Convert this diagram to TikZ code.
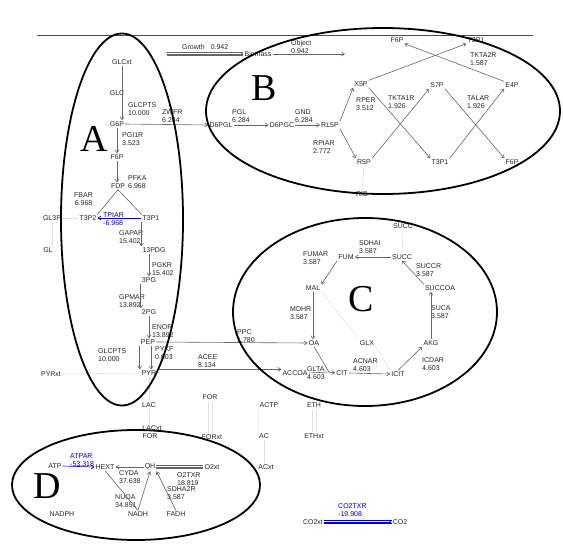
\documentclass[tikz,border=0pt]{standalone}
\usepackage{fontspec}
\setmainfont{Liberation Sans}
\newfontfamily\bigserif{Liberation Serif}
\usetikzlibrary{arrows.meta,calc}
\begin{document}
\begin{tikzpicture}[x=1pt,y=-1pt,
  met/.style={inner sep=1pt, font=\fontsize{7}{8}\selectfont, text=black!85},
  lab/.style={inner sep=0pt, anchor=north west, align=left, font=\fontsize{7}{8}\selectfont, text=black!85},
  bluelab/.style={lab, text=blue!75!black},
  flux/.style={draw=black!60, line width=0.6pt},
  arr/.style={flux, -{Straight Barb[length=3pt,width=4pt]}},
  bluearr/.style={draw=blue!75!black, line width=0.6pt, -{Straight Barb[length=3pt,width=4pt]}},
  faint/.style={draw=black!12, line width=0.6pt},
  region/.style={draw=black, line width=1.8pt},
  big/.style={font=\bigserif\fontsize{38}{38}\selectfont, inner sep=0pt, text height=25pt, text depth=0pt},
  dbl/.style={draw=black!60, line width=0.5pt, double distance=2.2pt},
  bluedbl/.style={draw=blue!75!black, line width=0.6pt, double distance=2.2pt}
]
\useasboundingbox (0,0) rectangle (563,544);

% top line
\coordinate (tl) at (37,35);
\coordinate (tr) at (533,35);
\draw[black!70, line width=0.6pt] (tl) -- (tr);

% ---------- metabolites ----------
\node[met] (GLCxt) at (122,62) {GLCxt};
\node[met] (GLC) at (117,93) {GLC};
\node[met] (G6P) at (117,124) {G6P};
\node[met] (F6P) at (117,157) {F6P};
\node[met] (FDP) at (118,186) {FDP};
\node[met] (T3P2) at (88,218) {T3P2};
\node[met] (T3P1) at (151,218) {T3P1};
\node[met] (GL3P) at (52,218) {GL3P};
\node[met] (GL) at (48,250) {GL};
\node[met] (PDG) at (154,250) {13PDG};
\node[met] (PG3) at (149,280) {3PG};
\node[met] (PG2) at (149,312) {2PG};
\node[met] (PEP) at (148,342) {PEP};
\node[met] (PYR) at (149,373) {PYR};
\node[met] (PYRxt) at (51,374) {PYRxt};
\node[met] (LAC) at (149,405) {LAC};
\node[met] (LACxt) at (152,428) {LACxt};
\node[met] (FOR) at (150,436) {FOR};
\node[met] (D6PGL) at (221,125) {D6PGL};
\node[met] (D6PGC) at (282,125) {D6PGC};
\node[met] (RL5P) at (330,125) {RL5P};
\node[met] (X5P) at (361,84) {X5P};
\node[met] (R5P) at (364,162) {R5P};
\node[met] (RIB) at (362,194) {RIB};
\node[met] (F6Pb) at (397,40) {F6P};
\node[met] (T3Pb) at (476,40) {T3P1};
\node[met] (S7P) at (437,85) {S7P};
\node[met] (E4P) at (512,85) {E4P};
\node[met] (T3Pc) at (440,162) {T3P1};
\node[met] (F6Pc) at (512,162) {F6P};
\node[met] (Biomass) at (258,54) {Biomass};
\coordinate (growstart) at (167,54);
\coordinate (objend) at (345,54);
\node[met] (OA) at (314,343) {OA};
\node[met] (MAL) at (313,288) {MAL};
\node[met] (FUM) at (346,257) {FUM};
\node[met] (SUCC) at (402,257) {SUCC};
\node[met] (SUCCxt) at (403,226) {SUCC};
\node[met] (SUCCOA) at (440,288) {SUCCOA};
\node[met] (AKG) at (431,343) {AKG};
\node[met] (GLX) at (367,343) {GLX};
\node[met] (ICIT) at (398,374) {ICIT};
\node[met] (CIT) at (342,373) {CIT};
\node[met] (ACCOA) at (295,373) {ACCOA};
\coordinate (cj) at (329,372);
\node[met] (FORm) at (210,397) {FOR};
\node[met] (FORxt) at (212,437) {FORxt};
\node[met] (ACTP) at (269,405) {ACTP};
\node[met] (AC) at (264,436) {AC};
\node[met] (ACxt) at (266,467) {ACxt};
\node[met] (ETH) at (314,405) {ETH};
\node[met] (ETHxt) at (314,436) {ETHxt};
\node[met] (O2xt) at (212,467) {O2xt};
\node[met] (ATP) at (55,466) {ATP};
\node[met] (HEXT) at (105,467) {HEXT};
\node[met] (QH) at (150,467) {QH};
\node[met] (NADPH) at (62,514) {NADPH};
\node[met] (NADH) at (138,514) {NADH};
\node[met] (FADH) at (176,514) {FADH};
\node[met] (CO2xt) at (313,522) {CO2xt};
\node[met] (CO2) at (400,522) {CO2};

% ---------- flux labels ----------
\node[lab] (l1) at (128,102) {GLCPTS\\10.000};
\node[lab] (l2) at (162,109) {ZWFR\\6.284};
\node[lab] (l3) at (122,132) {PGI1R\\3.523};
\node[lab] (l4) at (128,175) {PFKA\\6.968};
\node[lab, align=center] (l5) at (74,192) {FBAR\\6.968};
\node[bluelab] (l6) at (103,212) {TPIAR\\-6.968};
\node[lab] (l7) at (119,230) {GAPAR\\15.402};
\node[lab] (l8) at (152,262) {PGKR\\15.402};
\node[lab] (l9) at (119,294) {GPMAR\\13.892};
\node[lab] (l10) at (152,324) {ENOR\\13.892};
\node[lab] (l11) at (237,329) {PPC\\1.780};
\node[lab] (l12) at (155,346) {PYKF\\0.603};
\node[lab] (l13) at (98,348) {GLCPTS\\10.000};
\node[lab] (l14) at (198,354) {ACEE\\8.134};
\node[lab] (l15) at (232,109) {PGL\\6.284};
\node[lab] (l16) at (295,109) {GND\\6.284};
\node[lab] (l17) at (356,97) {RPER\\3.512};
\node[lab] (l18) at (313,140) {RPIAR\\2.772};
\node[lab] (l19) at (470,52) {TKTA2R\\1.587};
\node[lab] (l20) at (388,95) {TKTA1R\\1.926};
\node[lab] (l21) at (467,95) {TALAR\\1.926};
\node[lab] (l22) at (182,44) {Growth\hspace{6pt}0.942};
\node[lab] (l23) at (291,40) {Object\\0.942};
\node[lab] (l24) at (303,251) {FUMAR\\3.587};
\node[lab] (l25) at (290,306) {MDHR\\3.587};
\node[lab] (l26) at (359,240) {SDHAI\\3.587};
\node[lab] (l27) at (416,263) {SUCCR\\3.587};
\node[lab] (l28) at (431,305) {SUCA\\3.587};
\node[lab] (l29) at (422,357) {ICDAR\\4.603};
\node[lab] (l30) at (353,358) {ACNAR\\4.603};
\node[lab] (l31) at (307,366) {GLTA\\4.603};
\node[bluelab] (l32) at (70,453) {ATPAR\\-53.318};
\node[lab] (l33) at (119,470) {CYDA\\37.638};
\node[lab] (l34) at (115,494) {NUOA\\34.851};
\node[lab] (l35) at (177,472) {O2TXR\\18.819};
\node[lab] (l36) at (167,486) {SDHA2R\\3.587};
\node[bluelab] (l37) at (338,503) {CO2TXR\\-19.908};

% ---------- faint connectors ----------
\draw[faint] (GL3P.east) -- (T3P2.west);
\draw[faint] (GL3P.south) -- (GL3P.south |- GL.north);
\draw[faint] (PYRxt.east) -- (PYR.west);
\draw[faint] (PYR.south) -- (LAC.north);
\draw[faint] (LAC.south) -- (LAC.south |- LACxt.north);
\draw[faint] ([xshift=-2pt]FORm.south) -- ([xshift=-4pt]FORxt.north);
\draw[faint] ([xshift=2pt]FORm.south) -- ([xshift=0pt]FORxt.north);
\draw[faint] (ACTP.south west) -- (AC.north west);
\draw[faint] (AC.south) -- (AC.south |- ACxt.north);
\draw[faint] ([xshift=-2pt]ETH.south) -- ([xshift=-2pt]ETHxt.north);
\draw[faint] ([xshift=2pt]ETH.south) -- ([xshift=2pt]ETHxt.north);
\draw[faint] (SUCCxt.south) -- (SUCC.north);
\draw[faint] (R5P.south) -- (RIB.north);
\draw[faint] (GLX.north west) -- (MAL.south east);
\draw[faint] (GLX.south east) -- (ICIT.north west);

% ---------- glycolysis ----------
\draw[arr] (GLCxt.south) -- (GLCxt.south |- G6P.north);
\draw[arr] (G6P.south) -- (F6P.north);
\draw[arr] (F6P.south) -- (F6P.south |- FDP.north);
\draw[flux] (FDP.south) -- (T3P2.north east);
\draw[flux] (FDP.south) -- (T3P1.north west);
\draw[bluearr] (T3P1.west) -- (T3P2.east);
\draw[arr] (T3P1.south west) -- (T3P1.south west |- PDG.north);
\draw[arr] (PG3.north |- PDG.south) -- (PG3.north);
\draw[arr] (PG3.south west) -- (PG3.south west |- PG2.north);
\draw[arr] (PG2.south) -- (PG2.south |- PEP.north);
\draw[arr] (PEP.south west) -- (PEP.south west |- PYR.north);
\draw[arr] ([xshift=3pt]PEP.south) -- ([xshift=3pt]PEP.south |- PYR.north);
\draw[arr] (PEP.east) -- (OA.west);
\draw[arr] (PYR.north east) -- (PYR.north east -| ACCOA.west);

% ---------- pentose phosphate ----------
\draw[arr] (G6P.east) -- (D6PGL.west);
\draw[arr] (D6PGL.east) -- (D6PGC.west);
\draw[arr] (D6PGC.east) -- (RL5P.west);
\draw[arr] (RL5P.north east) -- (X5P.south west);
\draw[arr] (RL5P.south east) -- (R5P.north west);
\draw[arr] (X5P.north east) -- (T3Pb.south west);
\draw[arr] (E4P.north west) -- (F6Pb.south east);
\draw[arr] (X5P.south east) -- (T3Pc.north west);
\draw[arr] (R5P.north east) -- (S7P.south west);
\draw[arr] (S7P.south east) -- (F6Pc.north west);
\draw[arr] (T3Pc.north east) -- (E4P.south west);

% ---------- TCA ----------
\draw[arr] (MAL.south) -- (MAL.south |- OA.north);
\draw[arr] (FUM.south west) -- (MAL.north east);
\draw[arr] (SUCC.west) -- (FUM.east);
\draw[arr] (SUCCOA.north west) -- (SUCC.south);
\draw[arr] (AKG.north) -- (AKG.north |- SUCCOA.south);
\draw[arr] (ICIT.north) -- (AKG.south west);
\draw[arr] (CIT.east) -- (ICIT.west);
\draw[flux] (OA.south) -- (cj);
\draw[flux] (ACCOA.east) -- (cj);
\draw[arr] (cj) -- (CIT.west);

% ---------- growth / object ----------
\draw[dbl] (growstart) -- (Biomass.west);
\draw[arr] (growstart) -- (Biomass.west);
\draw[arr] (Biomass.east) -- (objend);

% ---------- energy ----------
\draw[bluearr] (ATP.east) -- (HEXT.west);
\draw[arr] (QH.west) -- (HEXT.east);
\draw[flux] (HEXT.south) -- (NADH.north);
\draw[arr] (NADH.north) -- (QH.south);
\draw[arr] (FADH.north) -- (QH.south east);
\draw[dbl] (QH.east) -- (O2xt.west);
\draw[flux] (QH.east) -- (O2xt.west);
\draw[bluedbl] (CO2xt.east) -- (CO2.west);
\draw[bluearr] (CO2xt.east) -- (CO2.west);

% ---------- regions ----------
\draw[region] (122,219.5) ellipse [x radius=61pt, y radius=186pt];
\draw[region] (383,111) ellipse [x radius=177pt, y radius=83pt];
\draw[region] (365,312) ellipse [x radius=132pt, y radius=94pt];
\draw[region] (136,485) ellipse [x radius=124pt, y radius=55pt];
\node[big] (LA) at (94,139) {A};
\node[big] (LB) at (264,88) {B};
\node[big] (LC) at (361,299) {C};
\node[big] (LD) at (47,486) {D};
\end{tikzpicture}
\end{document}
